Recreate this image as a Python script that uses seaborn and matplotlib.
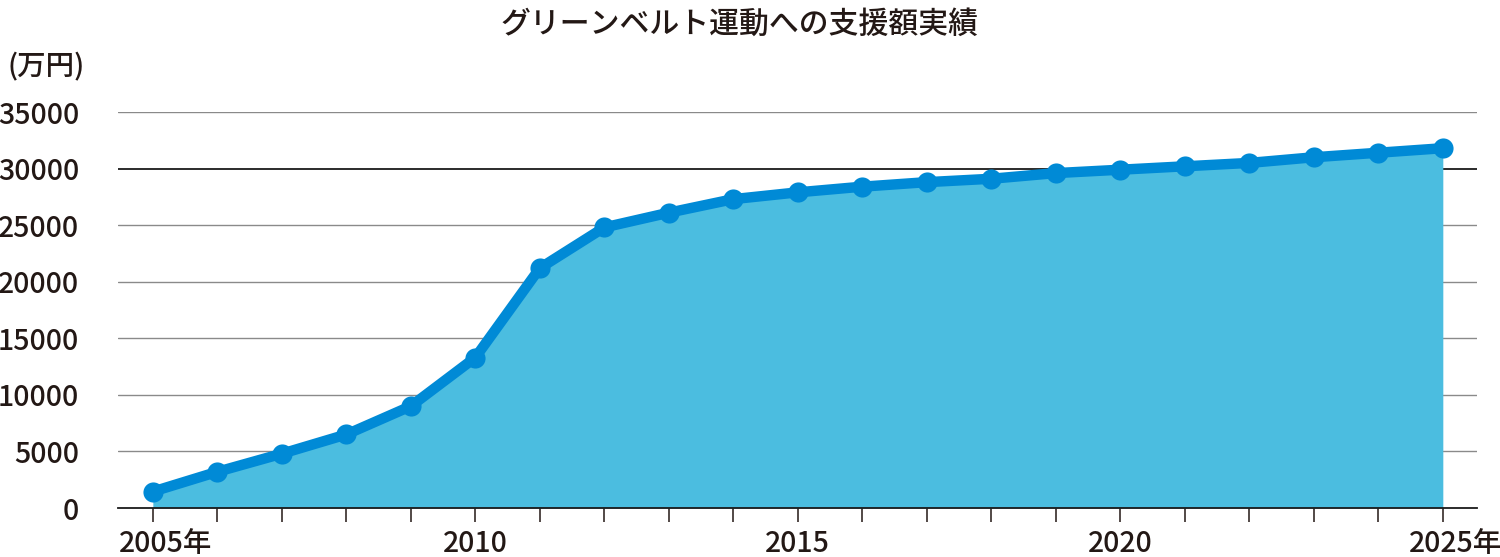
import matplotlib
matplotlib.use("Agg")
import matplotlib.pyplot as plt
import matplotlib.transforms as mtransforms
import seaborn as sns
import pandas as pd

years = list(range(2005, 2026))
amounts = [1450, 3200, 4800, 6500, 9000, 13300, 21200, 24800, 26100, 27300,
           27900, 28400, 28800, 29100, 29600, 29900, 30200, 30500, 31000, 31400, 31800]
ytick_values = [0, 5000, 10000, 15000, 20000, 25000, 30000, 35000]
xtick_values = [2005, 2010, 2015, 2020, 2025]
xtick_labels = ["2005年", "2010", "2015", "2020", "2025年"]
title = "グリーンベルト運動への支援額実績"
unit_label = "(万円)"

sns.set_style("white")
plt.rcParams['font.family'] = ['Noto Sans CJK JP', 'DejaVu Sans']

df = pd.DataFrame({"year": years, "amount": amounts})

fig = plt.figure(figsize=(15, 5.57), dpi=100)
ax = fig.add_axes([118/1500, 49/557, (1477-118)/1500, (508-112)/557])

line_color = "#008AD6"
fill_color = "#4BBDE0"
text_color = "#231815"

for v in ytick_values[1:]:
    ax.axhline(v, color="#1a1a1a" if v == 30000 else "#8a8a8a",
               lw=1.3 if v == 30000 else 1.0, zorder=0)

ax.fill_between(df["year"], 0, df["amount"], color=fill_color, lw=0, zorder=1)
sns.lineplot(data=df, x="year", y="amount", ax=ax, color=line_color, lw=7.5,
             marker="o", markersize=14.5, markeredgewidth=0, zorder=3,
             solid_joinstyle="round")

ax.set_xlim(2004.46, 2025.53)
ax.set_ylim(0, 35000)
ax.set_xlabel("")
ax.set_ylabel("")

for s in ["top", "right", "left"]:
    ax.spines[s].set_visible(False)
ax.spines["bottom"].set_color("#1a1a1a")
ax.spines["bottom"].set_linewidth(1.3)
ax.spines["bottom"].set_zorder(4)

ax.set_xticks(years)
new_labels = [xtick_labels[xtick_values.index(y)] if y in xtick_values else "" for y in years]
ax.set_xticklabels(new_labels)
ax.set_yticks(ytick_values)
ax.set_yticklabels([str(v) for v in ytick_values])
ax.tick_params(axis="y", length=0, pad=28, labelsize=20.5, labelcolor=text_color)
ax.tick_params(axis="x", direction="out", length=10, width=1.1, color=text_color,
               pad=5, labelsize=20.5, labelcolor=text_color, bottom=True)
for lab in ax.get_yticklabels():
    lab.set_fontweight("medium")
for lab in ax.get_xticklabels():
    lab.set_fontweight("medium")
    if lab.get_text().endswith("年"):
        lab.set_transform(lab.get_transform() +
                          mtransforms.ScaledTranslation(0.13, 0, fig.dpi_scale_trans))

fig.text(0.493, 0.985, title, ha="center", va="top", fontsize=21.5,
         fontweight="medium", color=text_color)
fig.text(0.005, 0.88, unit_label, ha="left", va="center", fontsize=20.5,
         fontweight="medium", color=text_color)

fig.savefig("out.png", dpi=100)
